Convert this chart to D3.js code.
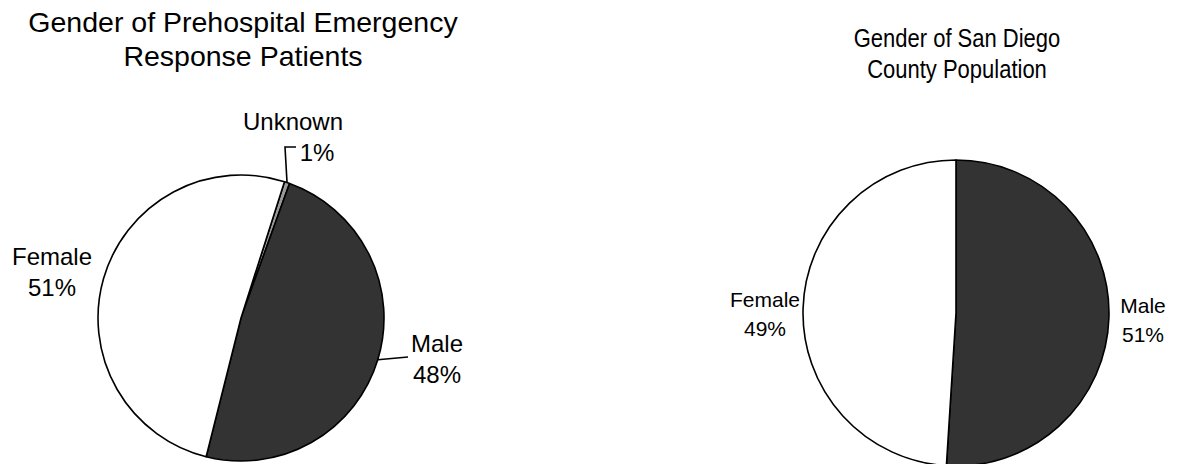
<!DOCTYPE html>
<html>
<head>
<meta charset="utf-8">
<script src="https://cdn.jsdelivr.net/npm/d3@7"></script>
<style>
  html, body { margin: 0; padding: 0; background: #fff; }
  svg text { font-family: Arial, "Liberation Sans", sans-serif; fill: #000; }
</style>
</head>
<body>
<svg id="c" width="1183" height="464"></svg>
<script>
// left pie: prehospital patients
const leftCats = ["Unknown", "Male", "Female"];
const leftValues = [0.6, 48.4, 51.0];
const leftLabels = ["1%", "48%", "51%"];
const leftTitle = ["Gender of Prehospital Emergency", "Response Patients"];

// right pie: county population
const rightCats = ["Male", "Female"];
const rightValues = [51, 49];
const rightLabels = ["51%", "49%"];
const rightTitle = ["Gender of San Diego", "County Population"];

const fills = { Male: "#333333", Female: "#ffffff", Unknown: "#999999" };

const svg = d3.select("#c");
const deg = Math.PI / 180;

function drawPie(cfg) {
  const g = svg.append("g").attr("transform", `translate(${cfg.cx},${cfg.cy})`);

  const pie = d3.pie().sort(null).value(d => d.value)
    .startAngle(cfg.start * deg).endAngle(cfg.start * deg + 2 * Math.PI);
  const arc = d3.arc().innerRadius(0).outerRadius(cfg.r);

  const data = cfg.cats.map((c, i) => ({ name: c, value: cfg.values[i], pct: cfg.pcts[i] }));
  const arcs = pie(data);

  g.selectAll("path.slice")
    .data(arcs)
    .enter().append("path")
    .attr("class", "slice")
    .attr("d", arc)
    .attr("fill", d => fills[d.data.name])
    .attr("stroke", "#000")
    .attr("stroke-width", 1.6)
    .attr("stroke-linejoin", "round");

  // title, two lines (optionally squeezed sideways)
  const t = svg.append("text")
    .attr("transform", `translate(${cfg.titleX},${cfg.titleY}) scale(${cfg.titleScaleX || 1},1)`)
    .attr("text-anchor", "middle")
    .style("font-size", cfg.titleSize + "px");
  cfg.title.forEach((line, i) => {
    t.append("tspan").attr("x", 0).attr("dy", i === 0 ? 0 : cfg.titleGap).text(line);
  });

  // labels
  arcs.forEach(a => {
    const lp = cfg.labelPos[a.data.name];
    const lab = svg.append("text")
      .attr("x", lp.x).attr("y", lp.y)
      .attr("text-anchor", "middle")
      .style("font-size", cfg.labelSize + "px");
    lab.append("tspan").attr("x", lp.x).text(a.data.name);
    lab.append("tspan").attr("x", lp.x + (lp.dx2 || 0)).attr("dy", cfg.labelGap).text(a.data.pct);

    if (lp.leader) {
      // leader starts on the rim at the slice's mid angle
      const mid = (a.startAngle + a.endAngle) / 2 + (lp.leader.shift || 0) * deg;
      const sx = cfg.cx + Math.sin(mid) * cfg.r;
      const sy = cfg.cy - Math.cos(mid) * cfg.r;
      const pts = [[sx, sy]].concat(lp.leader.pts);
      svg.append("path")
        .attr("d", d3.line()(pts))
        .attr("fill", "none")
        .attr("stroke", "#000")
        .attr("stroke-width", 1.6);
    }
  });
}

drawPie({
  cx: 241, cy: 318, r: 143, start: 17.7,
  cats: leftCats, values: leftValues, pcts: leftLabels,
  title: leftTitle, titleX: 243, titleY: 32, titleGap: 34, titleSize: 28.5,
  labelSize: 24, labelGap: 31,
  labelPos: {
    Unknown: { x: 293, y: 130, dx2: 24, leader: { pts: [[285, 147], [296, 147]] } },
    Male: { x: 437, y: 352, leader: { shift: 0, pts: [[408, 357]] } },
    Female: { x: 52, y: 265 }
  }
});

drawPie({
  cx: 956, cy: 313, r: 153, start: 0,
  cats: rightCats, values: rightValues, pcts: rightLabels,
  title: rightTitle, titleX: 957, titleY: 47, titleGap: 31, titleSize: 25, titleScaleX: 0.88,
  labelSize: 21, labelGap: 29,
  labelPos: {
    Male: { x: 1143, y: 313 },
    Female: { x: 765, y: 307 }
  }
});
</script>
</body>
</html>
